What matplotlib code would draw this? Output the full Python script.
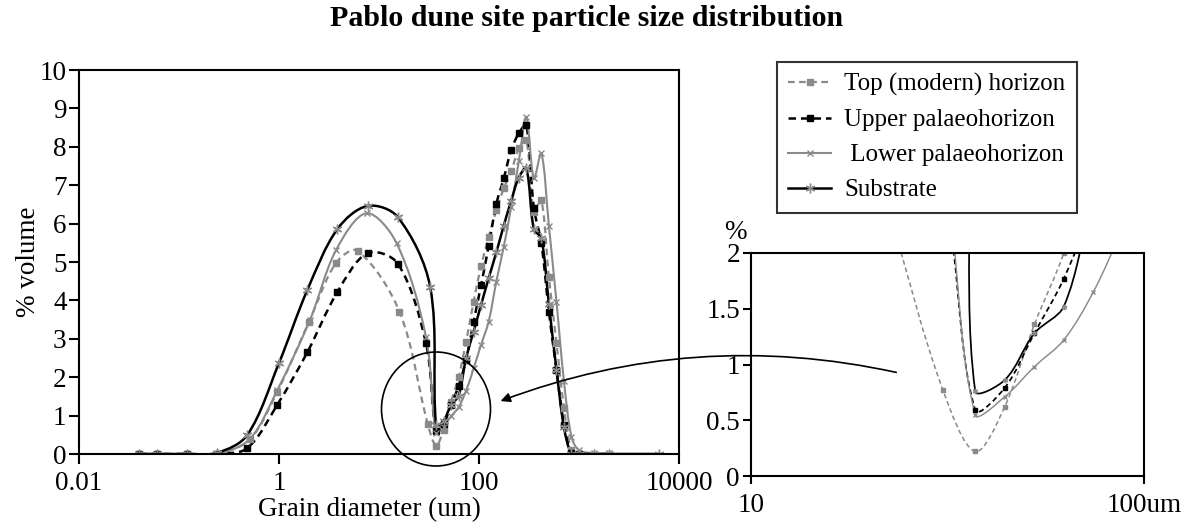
import matplotlib
matplotlib.use("Agg")
import matplotlib.pyplot as plt
import numpy as np
from matplotlib.patches import Ellipse, FancyArrowPatch, PathPatch
from matplotlib.path import Path
from matplotlib.lines import Line2D

plt.rcParams['font.family'] = ['Liberation Serif', 'DejaVu Serif']

# --- data (grain diameter in um, % volume) ---
top_x = [0.04, 0.06, 0.12, 0.24, 0.51, 0.96, 2.0, 3.7, 6.1, 16, 30.8, 37.2, 44.2, 52.6, 62.5,
         74.3, 88.4, 105, 125, 149, 177, 210, 250, 297, 354, 420, 500, 595, 707, 841, 1000]
top_y = [0, 0, 0, 0, 0.38, 1.62, 3.45, 4.97, 5.29, 3.71, 0.77, 0.22, 0.62, 1.36, 2.00,
         2.92, 3.97, 4.90, 5.65, 6.35, 6.92, 7.36, 7.96, 8.18, 6.30, 6.61, 4.60, 2.90, 1.20, 0.10, 0]

up_x = [0.04, 0.06, 0.12, 0.24, 0.48, 0.96, 1.92, 3.84, 7.68, 15.4, 29.5, 37.2, 44.2, 52.6, 62.5,
        74.3, 88.4, 105, 125, 149, 177, 210, 250, 297, 354, 420, 500, 595, 707, 841, 1000]
up_y = [0, 0, 0, 0, 0.15, 1.28, 2.65, 4.22, 5.23, 4.96, 2.88, 0.59, 0.79, 1.28, 1.77,
        2.45, 3.45, 4.40, 5.42, 6.51, 7.18, 7.92, 8.35, 8.57, 6.40, 5.50, 3.70, 2.20, 0.76, 0.03, 0]

low_x = [0.04, 0.06, 0.12, 0.24, 0.51, 0.96, 2.04, 3.72, 7.5, 15, 29.5, 37.2, 44.2, 52.6, 62.5,
         74.3, 88.4, 105, 125, 149, 177, 210, 250, 297, 354, 420, 500, 595, 707, 841, 1000, 1414, 2000]
low_y = [0, 0, 0, 0, 0.39, 1.66, 3.49, 5.31, 6.27, 5.49, 3.05, 0.55, 0.71, 0.98, 1.22,
         1.65, 2.23, 2.85, 3.45, 4.49, 5.40, 6.44, 7.62, 8.77, 7.18, 7.83, 5.94, 3.97, 1.90, 0.45, 0.10, 0.02, 0.02]

sub_x = [0.04, 0.06, 0.12, 0.24, 0.48, 1.0, 1.92, 3.84, 7.68, 15.4, 32.5, 37.2, 44.2, 52.6, 62.5,
         74.3, 88.4, 105, 125, 149, 177, 210, 250, 297, 354, 420, 500, 595, 707, 841, 1000, 1414, 2000, 6300]
sub_y = [0, 0, 0, 0.03, 0.49, 2.37, 4.27, 5.86, 6.46, 6.17, 4.35, 0.76, 0.86, 1.28, 1.52,
         2.50, 3.19, 3.89, 4.58, 5.25, 5.95, 6.60, 7.20, 7.44, 5.85, 5.62, 3.90, 2.20, 0.70, 0.0, 0, 0, 0, 0]

labels = ['Top (modern) horizon', 'Upper palaeohorizon', ' Lower palaeohorizon', 'Substrate']

grey = '#8a8a8a'
star = (6, 2, 0)  # asterisk

lines = [
    dict(color=grey, ls=(0, (3, 2)), lw=1.6),
    dict(color='black', ls=(0, (3, 2)), lw=1.8),
    dict(color=grey, ls='-', lw=1.5),
    dict(color='black', ls='-', lw=1.8),
]
marks = [
    dict(marker='s', mfc=grey, mec=grey, ms=4),
    dict(marker='s', mfc='black', mec='black', ms=4),
    dict(marker='x', mfc=grey, mec=grey, ms=5, mew=1.0),
    dict(marker=star, mfc=grey, mec=grey, ms=7, mew=1.0),
]
series = [(top_x, top_y), (up_x, up_y), (low_x, low_y), (sub_x, sub_y)]


def smooth_path(x, y, sx=100.0, sy=38.4):
    # excel style "smoothed line": bezier through the points, handles scaled by segment length
    p = np.column_stack([np.log10(x) * sx, np.asarray(y, float) * sy])
    n = len(p)
    seg = np.hypot(*np.diff(p, axis=0).T)
    verts, codes = [p[0]], [Path.MOVETO]
    for i in range(n - 1):
        p0 = p[i - 1] if i > 0 else p[i]
        p3 = p[i + 2] if i + 2 < n else p[i + 1]
        la = seg[i - 1] if i > 0 else seg[i]
        lb = seg[i + 1] if i + 2 < n else seg[i]
        l1 = seg[i]
        k1 = l1 / (la + l1) / 3 if la + l1 > 0 else 0
        k2 = l1 / (l1 + lb) / 3 if l1 + lb > 0 else 0
        verts += [p[i] + (p[i + 1] - p0) * k1, p[i + 1] - (p3 - p[i]) * k2, p[i + 1]]
        codes += [Path.CURVE4] * 3
    v = np.array(verts)
    v[:, 0] = 10 ** (v[:, 0] / sx)
    v[:, 1] = v[:, 1] / sy
    return Path(v, codes)


def draw(a, lw_k=1.0, ms_k=1.0):
    for (x, y), ln, mk in zip(series, lines, marks):
        a.add_patch(PathPatch(smooth_path(x, y), fill=False, ec=ln['color'],
                              ls=ln['ls'], lw=ln['lw'] * lw_k, capstyle='butt'))
        m = dict(mk)
        m['ms'] = mk['ms'] * ms_k
        a.plot(x, y, ls='none', **m)


fig = plt.figure(figsize=(11.84, 5.24), dpi=100)

# main chart
ax = fig.add_axes([79 / 1184, 70 / 524, 600 / 1184, 384 / 524])
draw(ax)
ax.set_xscale('log')
ax.set_xlim(0.01, 10000)
ax.set_ylim(0, 10)
ax.set_xticks([0.01, 1, 100, 10000])
ax.set_xticklabels(['0.01', '1', '100', '10000'])
ax.minorticks_off()
ax.set_yticks(range(0, 11))
ax.tick_params(direction='out', length=7, width=1.5, labelsize=19.5)
ax.tick_params(axis='x', pad=5)
ax.tick_params(axis='y', pad=2)
for s in ax.spines.values():
    s.set_linewidth(1.5)
ax.set_xlabel('Grain diameter (um)', fontsize=19.5)
ax.xaxis.set_label_coords((369 - 79) / 600, -0.112)
ax.set_ylabel('% volume', fontsize=19.5, labelpad=-1)
fig.text(587 / 1184, 1 - 19 / 524, 'Pablo dune site particle size distribution',
         fontsize=21.5, fontweight='bold', ha='center', va='center')

# zoomed inset
ax2 = fig.add_axes([751 / 1184, 48 / 524, 393 / 1184, 223 / 524])
draw(ax2, lw_k=0.7, ms_k=0.55)
ax2.set_xscale('log')
ax2.set_xlim(10, 100)
ax2.set_ylim(0, 2)
ax2.set_xticks([10, 100])
ax2.set_xticklabels(['10', '100um'])
ax2.minorticks_off()
ax2.set_yticks([0, 0.5, 1, 1.5, 2])
ax2.set_yticklabels(['0', '0.5', '1', '1.5', '2'])
ax2.tick_params(direction='out', length=6, width=1.5, labelsize=19.5)
ax2.tick_params(axis='x', pad=6)
ax2.tick_params(axis='y', pad=2)
for s in ax2.spines.values():
    s.set_linewidth(1.5)
fig.text(735 / 1184, 1 - 232 / 524, '%', fontsize=19.5, ha='center', va='center')

# legend
handles = [Line2D([], [], **ln, **mk) for ln, mk in zip(lines, marks)]
leg = fig.legend(handles, labels, loc='upper left', bbox_to_anchor=(777 / 1184, 1 - 62 / 524),
                 fontsize=18, frameon=True, fancybox=False, edgecolor='black',
                 borderaxespad=0, handlelength=1.7, labelspacing=0.5, borderpad=0.45,
                 handletextpad=0.55)
leg.get_frame().set_linewidth(1.5)

# circle around the dip and arrow from the inset
fig.add_artist(Ellipse((4.36, 1.15), 1.09, 1.14, transform=fig.dpi_scale_trans,
                       fill=False, ec='black', lw=1.2))
fig.add_artist(FancyArrowPatch(
    (899, 524 - 373), (498, 524 - 402), transform=None,
    connectionstyle='arc3,rad=0.15', arrowstyle='-|>', mutation_scale=14,
    color='black', lw=1.2))

fig.savefig('out.png', dpi=100)
